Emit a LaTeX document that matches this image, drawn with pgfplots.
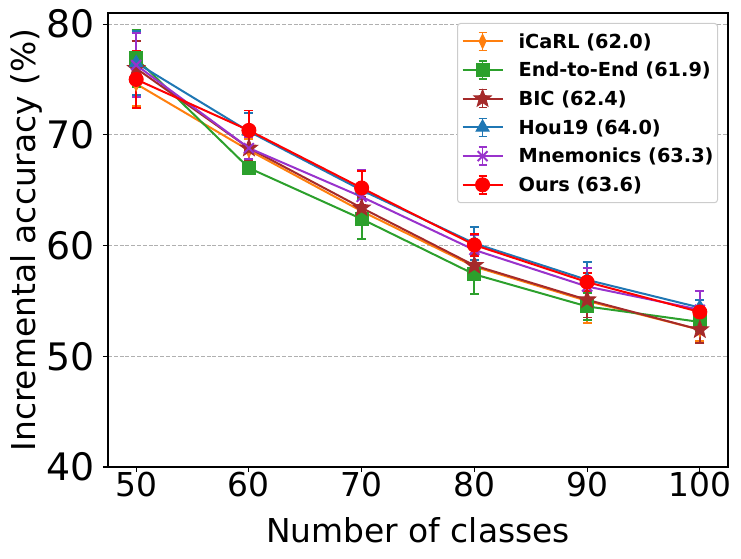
\documentclass[border=0pt]{standalone}
\usepackage{fontspec}
\setmainfont{DejaVu Sans}
\usepackage{pgfplots}
\pgfplotsset{compat=1.18}
\usetikzlibrary{plotmarks}

\definecolor{cOrange}{HTML}{FF7F0E}
\definecolor{cGreen}{HTML}{2CA02C}
\definecolor{cBrown}{HTML}{A52A2A}
\definecolor{cBlue}{HTML}{1F77B4}
\definecolor{cPurple}{HTML}{9932CC}
\definecolor{cRed}{HTML}{FF0000}

\pgfdeclareplotmark{fstar}{%
  \pgfpathmoveto{\pgfpointpolar{90}{\pgfplotmarksize}}%
  \pgfpathlineto{\pgfpointpolar{126}{0.42\pgfplotmarksize}}%
  \pgfpathlineto{\pgfpointpolar{162}{\pgfplotmarksize}}%
  \pgfpathlineto{\pgfpointpolar{198}{0.42\pgfplotmarksize}}%
  \pgfpathlineto{\pgfpointpolar{234}{\pgfplotmarksize}}%
  \pgfpathlineto{\pgfpointpolar{270}{0.42\pgfplotmarksize}}%
  \pgfpathlineto{\pgfpointpolar{306}{\pgfplotmarksize}}%
  \pgfpathlineto{\pgfpointpolar{342}{0.42\pgfplotmarksize}}%
  \pgfpathlineto{\pgfpointpolar{18}{\pgfplotmarksize}}%
  \pgfpathlineto{\pgfpointpolar{54}{0.42\pgfplotmarksize}}%
  \pgfpathclose
  \pgfusepathqfillstroke
}

\pgfplotstableread{
x y e
50 74.6 2.0
60 68.6 1.0
70 63.1 1.2
80 58.1 1.2
90 55.0 2.0
100 52.4 1.0
}\icarl
\pgfplotstableread{
x y e
50 76.9 2.6
60 67.0 0.5
70 62.4 1.8
80 57.4 1.8
90 54.5 1.2
100 53.1 0.8
}\ete
\pgfplotstableread{
x y e
50 76.0 2.5
60 68.8 1.2
70 63.4 1.0
80 58.2 1.0
90 55.1 1.6
100 52.4 1.2
}\bic
\pgfplotstableread{
x y e
50 76.5 2.9
60 70.3 1.7
70 65.0 1.8
80 60.2 1.5
90 56.9 1.6
100 54.4 0.7
}\hou
\pgfplotstableread{
x y e
50 76.3 2.9
60 68.8 1.0
70 64.4 2.4
80 59.6 1.3
90 56.3 1.7
100 54.2 1.7
}\mnem
\pgfplotstableread{
x y e
50 75.0 2.6
60 70.4 1.8
70 65.2 1.5
80 60.05 1.0
90 56.7 0.8
100 54.0 0.5
}\ours

\begin{document}
\begin{tikzpicture}
\begin{axis}[
  at={(0,0)}, anchor=south west,
  scale only axis, width=620bp, height=454bp,
  xmin=47.5, xmax=102.5, ymin=40, ymax=81,
  xtick={50,60,...,100}, ytick={40,50,...,80},
  tick align=outside, xtick pos=left, ytick pos=left,
  major tick length=5bp,
  tick style={line width=1.1bp, black},
  axis line style={line width=1.1bp},
  ymajorgrids,
  grid style={color=black!31, line width=1.1bp, dash pattern=on 4bp off 1.8bp},
  /pgf/number format/assume math mode=true,
  xticklabel style={font=\fontsize{33}{40}\selectfont, inner sep=0pt, anchor=north},
  yticklabel style={font=\fontsize{38}{46}\selectfont, inner sep=0pt, anchor=east, xshift=-8bp},
  xlabel={Number of classes},
  ylabel={Incremental accuracy (\%)},
  label style={font=\fontsize{33}{40}\selectfont, inner sep=0pt},
  xlabel style={at={(axis description cs:0.5,-0.139)}, anchor=center},
  ylabel style={at={(axis description cs:-0.132,0.5)}, anchor=center},
  legend style={at={(axis description cs:0.9839,0.978)}, anchor=north east,
    draw=black!20, line width=1bp, rounded corners=3bp, fill=white,
    font=\fontsize{19.4}{23}\selectfont\bfseries,
    inner xsep=4bp, inner ysep=3.5bp, row sep=0pt,
    nodes={inner sep=0pt, text height=21.1bp, text depth=7.6bp, anchor=west},
    /tikz/every odd column/.append style={column sep=15bp}},
  legend cell align=left,
  legend image code/.code={
    \draw[sharp corners, solid, line width=1.5bp] (20bp,-9bp)--(20bp,9bp) (16bp,-9bp)--(24bp,-9bp) (16bp,9bp)--(24bp,9bp);
    \draw[sharp corners, line width=2bp, mark repeat=2, mark phase=2] plot coordinates {(0bp,0bp) (20bp,0bp) (40bp,0bp)};
  },
  error bars/y dir=both,
  error bars/y explicit,
  error bars/error bar style={line width=1.8bp, solid},
  error bars/error mark=-,
  error bars/error mark options={rotate=90, line width=1.8bp, mark size=4.5bp, solid},
]
\addplot[cOrange, line width=2bp, mark=diamond*, mark size=7bp, mark options={xscale=0.65, solid, line width=1bp}] table[x=x, y=y, y error=e] {\icarl};
\addlegendentry{iCaRL (62.0)}
\addplot[cGreen, line width=2bp, mark=square*, mark size=6.5bp, mark options={solid, line width=1bp}] table[x=x, y=y, y error=e] {\ete};
\addlegendentry{End-to-End (61.9)}
\addplot[cBrown, line width=2bp, mark=fstar, mark size=9bp, mark options={solid, line width=1bp}] table[x=x, y=y, y error=e] {\bic};
\addlegendentry{BIC (62.4)}
\addplot[cBlue, line width=2bp, mark=triangle*, mark size=7.5bp, mark options={solid, line width=1bp}] table[x=x, y=y, y error=e] {\hou};
\addlegendentry{Hou19 (64.0)}
\addplot[cPurple, line width=2bp, mark=x, mark size=7bp, mark options={solid, line width=2bp}] table[x=x, y=y, y error=e] {\mnem};
\addlegendentry{Mnemonics (63.3)}
\addplot[cRed, line width=2bp, mark=*, mark size=7bp, mark options={solid, line width=1bp}] table[x=x, y=y, y error=e] {\ours};
\addlegendentry{Ours (63.6)}
\end{axis}
\pgfresetboundingbox
\path[use as bounding box] ([xshift=-108bp,yshift=-91bp]current axis.south west) rectangle ([xshift=13bp,yshift=13bp]current axis.north east);
\end{tikzpicture}
\end{document}
